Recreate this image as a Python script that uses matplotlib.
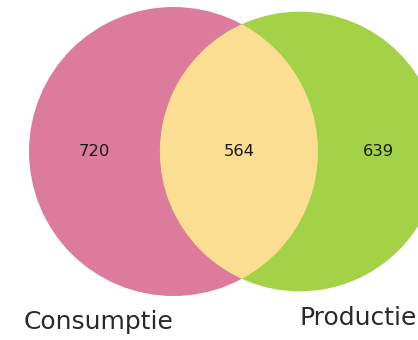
import numpy as np
import matplotlib
matplotlib.use("Agg")
import matplotlib.pyplot as plt
from matplotlib.patches import Circle

# subset sizes: only A, only B, both
set_labels = ["Consumptie", "Productie"]
subset_sizes = [720, 639, 564]
subset_text = ["720", "639", "564"]
colors = ["#DC7B9B", "#A3D247", "#FCDE93"]

only_a, only_b, both = subset_sizes
r_a = np.sqrt((only_a + both) / np.pi)
r_b = np.sqrt((only_b + both) / np.pi)


def lens_area(d, r1, r2):
    a1 = r1**2 * np.arccos((d**2 + r1**2 - r2**2) / (2 * d * r1))
    a2 = r2**2 * np.arccos((d**2 + r2**2 - r1**2) / (2 * d * r2))
    a3 = 0.5 * np.sqrt((-d + r1 + r2) * (d + r1 - r2) * (d - r1 + r2) * (d + r1 + r2))
    return a1 + a2 - a3


# find center distance so the overlap area equals the shared count
lo, hi = abs(r_a - r_b) + 1e-9, r_a + r_b - 1e-9
for _ in range(100):
    mid = (lo + hi) / 2
    if lens_area(mid, r_a, r_b) > both:
        lo = mid
    else:
        hi = mid
dist = (lo + hi) / 2

ca = np.array([0.0, 0.0])
cb = np.array([dist, 0.0])

fig = plt.figure(figsize=(4.18, 3.40), dpi=100)
ax = fig.add_axes([0, 0, 1, 1])
ax.set_aspect("equal")
ax.axis("off")

scale = 144.5 / r_a  # pixels per unit
ax.set_xlim(-173.5 / scale, (418 - 173.5) / scale)
ax.set_ylim(-(340 - 151.5) / scale, 151.5 / scale)

circ_a = Circle(ca, r_a, facecolor=colors[0], edgecolor="none")
circ_b = Circle(cb, r_b, facecolor=colors[1], edgecolor="none")
ax.add_patch(circ_a)
ax.add_patch(circ_b)
inter = Circle(ca, r_a, facecolor=colors[2], edgecolor="none")
ax.add_patch(inter)
inter.set_clip_path(circ_b)

num_kw = dict(ha="center", va="center", fontsize=11.8, color="#1a1a1a")
ax.text((ca[0] - r_a + cb[0] - r_b) / 2, 0, subset_text[0], **num_kw)
ax.text((cb[0] - r_b + ca[0] + r_a) / 2, 0, subset_text[2], **num_kw)
ax.text((ca[0] + r_a + cb[0] + r_b) / 2, 0, subset_text[1], **num_kw)

lab_kw = dict(va="top", fontsize=18, color="#2a2a2a")
ax.text(ca[0], ca[1] - r_a - 2.0, set_labels[0], ha="right", **lab_kw)
ax.text(cb[0], cb[1] - r_b - 2.0, set_labels[1], ha="left", **lab_kw)

fig.savefig("out.png", dpi=100)
